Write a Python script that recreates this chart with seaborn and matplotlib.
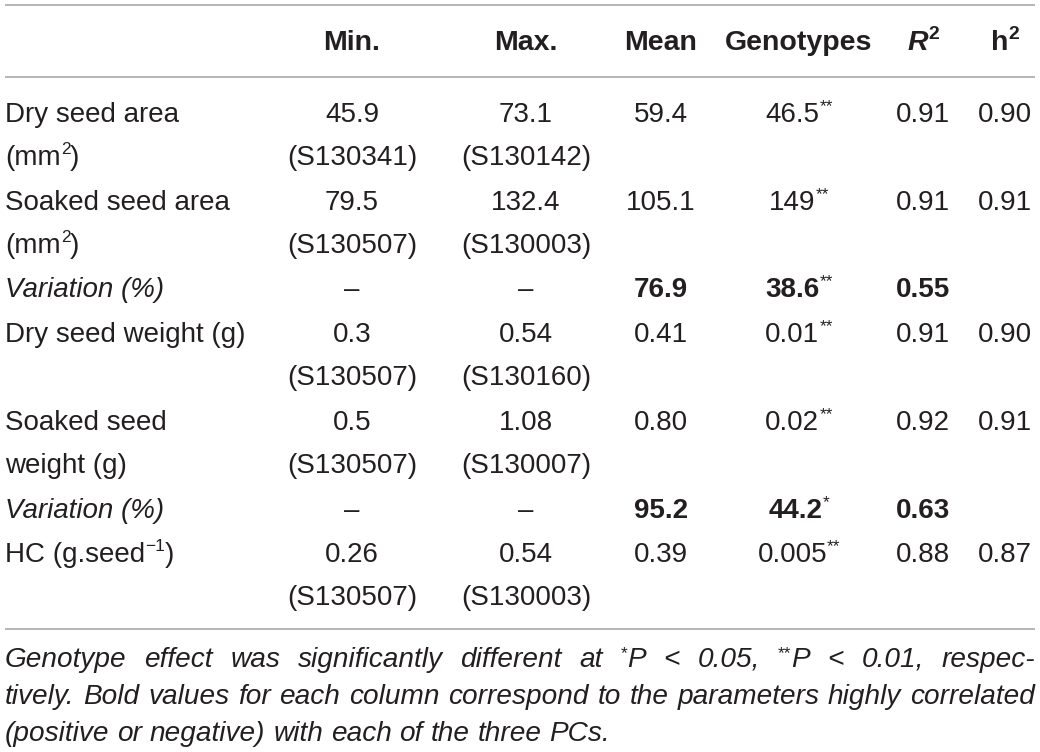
import re
import matplotlib
matplotlib.use("Agg")
import matplotlib.pyplot as plt
import seaborn as sns

# ---------------- data ----------------
col_headers = ["Min.", "Max.", "Mean", "Genotypes", "R^{2}", "h^{2}"]
row_labels = ["Dry seed area\n(mm^{2})", "Soaked seed area\n(mm^{2})", "Variation (%)",
              "Dry seed weight (g)", "Soaked seed\nweight (g)", "Variation (%)",
              "HC (g.seed^{\u22121})"]
label_italic = [False, False, True, False, False, True, False]
row_bold = [False, False, True, False, False, True, False]
min_vals = ["45.9", "79.5", "\u2013", "0.3", "0.5", "\u2013", "0.26"]
min_ids = ["(S130341)", "(S130507)", "", "(S130507)", "(S130507)", "", "(S130507)"]
max_vals = ["73.1", "132.4", "\u2013", "0.54", "1.08", "\u2013", "0.54"]
max_ids = ["(S130142)", "(S130003)", "", "(S130160)", "(S130007)", "", "(S130003)"]
mean_vals = ["59.4", "105.1", "76.9", "0.41", "0.80", "95.2", "0.39"]
geno_vals = ["46.5", "149", "38.6", "0.01", "0.02", "44.2", "0.005"]
geno_sig = ["**", "**", "**", "**", "**", "*", "**"]
r2_vals = ["0.91", "0.91", "0.55", "0.91", "0.92", "0.63", "0.88"]
h2_vals = ["0.90", "0.91", "", "0.90", "0.91", "", "0.87"]
footnote_lines = [
    "Genotype effect was significantly different at ^{*}P < 0.05, ^{**}P < 0.01, respec-",
    "tively. Bold values for each column correspond to the parameters highly correlated",
    "(positive or negative) with each of the three PCs.",
]

# ---------------- layout ----------------
W, H = 1040, 752
FONT = "Liberation Sans"
COLOR = "#231f20"
LINE_COLOR = "#a0a0a0"
BODY = 20
HEAD = 20.5
col_x = [352, 526, 661, 799, 923, 1005]
first_base = [122, 210, 297, 342, 430, 518, 562]
line_gap = 43
header_base = 50
foot_base = [667, 704, 741]
LEFT, RIGHT = 5, 1035

sns.set_style("white")
plt.rcParams["font.family"] = [FONT, "DejaVu Sans"]
fig = plt.figure(figsize=(W / 100, H / 100), dpi=100)
ax = fig.add_axes([0, 0, 1, 1])
ax.set_xlim(0, W)
ax.set_ylim(H, 0)
ax.axis("off")
renderer = fig.canvas.get_renderer()


def parse(s, size, weight="normal", style="normal", sup_weight=None, rise_frac=0.55):
    runs = []
    for i, part in enumerate(re.split(r"\^\{(.*?)\}", s)):
        if not part:
            continue
        if i % 2 == 1:
            runs.append(dict(text=part, size=size * 0.62,
                             weight=sup_weight or "normal", style="normal",
                             rise=size * rise_frac))
        else:
            runs.append(dict(text=part, size=size, weight=weight, style=style, rise=0))
    return runs


def measure(runs):
    ws = []
    for r in runs:
        t = ax.text(0, 0, r["text"], fontsize=r["size"], fontweight=r["weight"],
                    fontstyle=r["style"], family=FONT)
        ws.append(t.get_window_extent(renderer).width)
        t.remove()
    return ws


def draw(runs, x, y, ha="left"):
    ws = measure(runs)
    total = sum(ws)
    if ha == "center":
        x = x - total / 2
    elif ha == "right":
        x = x - total
    for r, w in zip(runs, ws):
        ax.text(x, y - r["rise"], r["text"], fontsize=r["size"], fontweight=r["weight"],
                fontstyle=r["style"], family=FONT, color=COLOR, va="baseline", ha="left")
        x += w
    return total


# rules
for yy in (5, 77, 629):
    ax.plot([LEFT, RIGHT], [yy, yy], color=LINE_COLOR, lw=1.1, solid_capstyle="butt")

# header
for i, h in enumerate(col_headers):
    style = "italic" if h.startswith("R") else "normal"
    runs = parse(h, HEAD, weight="bold", style=style, sup_weight="bold")
    for r in runs:
        if r["rise"]:
            r["size"] = HEAD * 0.68
    draw(runs, col_x[i], header_base, ha="center")

# body
for k in range(len(row_labels)):
    y0 = first_base[k]
    for j, ln in enumerate(row_labels[k].split("\n")):
        draw(parse(ln, BODY, style="italic" if label_italic[k] else "normal"),
             LEFT, y0 + j * line_gap)
    draw(parse(min_vals[k], BODY), col_x[0], y0, ha="center")
    if min_ids[k]:
        draw(parse(min_ids[k], BODY), col_x[0], y0 + line_gap, ha="center")
    draw(parse(max_vals[k], BODY), col_x[1], y0, ha="center")
    if max_ids[k]:
        draw(parse(max_ids[k], BODY), col_x[1], y0 + line_gap, ha="center")
    wt = "bold" if row_bold[k] else "normal"
    draw(parse(mean_vals[k], BODY, weight=wt), col_x[2], y0, ha="center")
    g = parse(geno_vals[k], BODY, weight=wt) + parse("^{" + geno_sig[k] + "}", BODY)
    draw(g, col_x[3], y0, ha="center")
    draw(parse(r2_vals[k], BODY, weight=wt), col_x[4], y0, ha="center")
    if h2_vals[k]:
        draw(parse(h2_vals[k], BODY), col_x[5], y0, ha="center")

# footnote: size chosen so that the second (full, justified) line fits the width
ref_size = 10.0
ref_w = sum(measure(parse(footnote_lines[1], ref_size, style="italic")))
FOOT = ref_size * (RIGHT - LEFT) / ref_w * 0.99

for i, ln in enumerate(footnote_lines):
    words = ln.split(" ")
    wruns = [parse(w, FOOT, style="italic", rise_frac=0.45) for w in words]
    if i < 2:
        widths = [sum(measure(wr)) for wr in wruns]
        gap = (RIGHT - LEFT - sum(widths)) / (len(words) - 1)
        x = LEFT
        for wr, w in zip(wruns, widths):
            draw(wr, x, foot_base[i])
            x += w + gap
    else:
        space = measure(parse(" ", FOOT, style="italic"))[0]
        x = LEFT
        for wr in wruns:
            x += draw(wr, x, foot_base[i]) + space

fig.savefig("out.png", dpi=100)
